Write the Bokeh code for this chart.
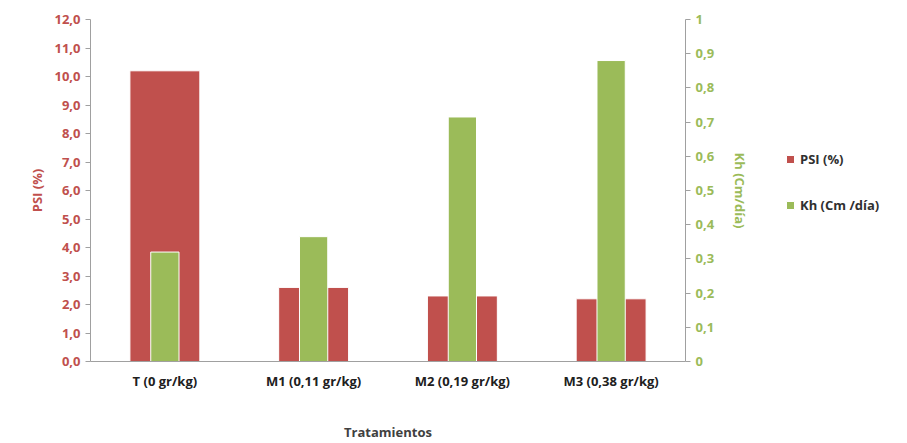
from bokeh.plotting import figure
from bokeh.layouts import row
from bokeh.models import (ColumnDataSource, Range1d, LinearAxis, FactorRange, Legend,
                          LegendItem, CustomJSTickFormatter, FixedTicker)
from bokeh.embed import file_html
from bokeh.resources import INLINE

categories = ["T (0 gr/kg)", "M1 (0,11 gr/kg)", "M2 (0,19 gr/kg)", "M3 (0,38 gr/kg)"]
psi = [10.2, 2.6, 2.3, 2.2]
kh = [0.32, 0.365, 0.715, 0.88]
series_labels = ["PSI (%)", "Kh (Cm /día)"]

RED = "#c0504d"
GREEN = "#9bbb59"
FONT = "Open Sans"

source = ColumnDataSource(dict(cat=categories, psi=psi, kh=kh))

p = figure(x_range=FactorRange(*categories, range_padding=0.0), y_range=Range1d(0, 12),
           frame_width=595, frame_height=342, output_backend="svg", toolbar_location=None,
           min_border_left=90, min_border_right=0, min_border_top=19, min_border_bottom=62)
p.extra_y_ranges = {"kh": Range1d(0, 1)}

p.vbar(x="cat", top="psi", width=0.47, source=source, fill_color=RED,
       line_color="white", line_width=1)
p.vbar(x="cat", top="kh", width=0.19, source=source, fill_color=GREEN,
       line_color="white", line_width=1, y_range_name="kh")

p.yaxis.ticker = FixedTicker(ticks=list(range(0, 13)))
p.yaxis.formatter = CustomJSTickFormatter(code="return tick.toFixed(1).replace('.', ',');")
p.yaxis.axis_label = "PSI (%)"
p.yaxis.axis_label_text_color = RED
p.yaxis.major_label_text_color = RED

ax2 = LinearAxis(y_range_name="kh", axis_label="Kh (Cm/día)",
                 ticker=FixedTicker(ticks=[i / 10 for i in range(11)]),
                 formatter=CustomJSTickFormatter(
                     code="return parseFloat(tick.toFixed(1)).toString().replace('.', ',');"))
ax2.axis_label_text_color = GREEN
ax2.major_label_text_color = GREEN
ax2.axis_label_standoff = 14
p.add_layout(ax2, "right")

p.xaxis.axis_label = "Tratamientos"
p.xaxis.axis_label_text_color = "#404040"
p.xaxis.major_label_text_color = "#202020"
p.xaxis.axis_label_standoff = 30

for ax in p.axis:
    ax.axis_label_text_font = FONT
    ax.axis_label_text_font_style = "bold"
    ax.axis_label_text_font_size = "13px"
    ax.major_label_text_font = FONT
    ax.major_label_text_font_style = "bold"
    ax.major_label_text_font_size = "13px"
    ax.axis_line_color = "#a0a0a0"
    ax.major_tick_line_color = "#a0a0a0"
    ax.minor_tick_line_color = None
    ax.major_tick_in = 0
    ax.major_tick_out = 5
p.xaxis.major_tick_line_color = None

p.xgrid.grid_line_color = None
p.ygrid.grid_line_color = None
p.outline_line_color = None

# legend lives in a small side figure so it is not clipped by the plot frame
lg = figure(width=140, height=423, output_backend="svg", toolbar_location=None,
            x_range=Range1d(0, 1), y_range=Range1d(0, 1),
            min_border=0, outline_line_color=None)
lg.axis.visible = False
lg.grid.grid_line_color = None
# swatch renderers sit outside the visible range; only their legend glyphs show
l1 = lg.vbar(x=[5], top=[5], bottom=[4], width=0.1, fill_color=RED, line_color="white")
l2 = lg.vbar(x=[5], top=[5], bottom=[4], width=0.1, fill_color=GREEN, line_color="white")

legend = Legend(items=[LegendItem(label=series_labels[0], renderers=[l1]),
                       LegendItem(label=series_labels[1], renderers=[l2])],
                label_text_font=FONT, label_text_font_style="bold",
                label_text_font_size="13px", label_text_color="#303030",
                border_line_color=None, background_fill_alpha=0, spacing=28,
                glyph_width=10, glyph_height=10, padding=4, margin=0,
                location=(33, 127))
lg.add_layout(legend)

open("out.html", "w").write(file_html(row(p, lg, spacing=0), INLINE))
